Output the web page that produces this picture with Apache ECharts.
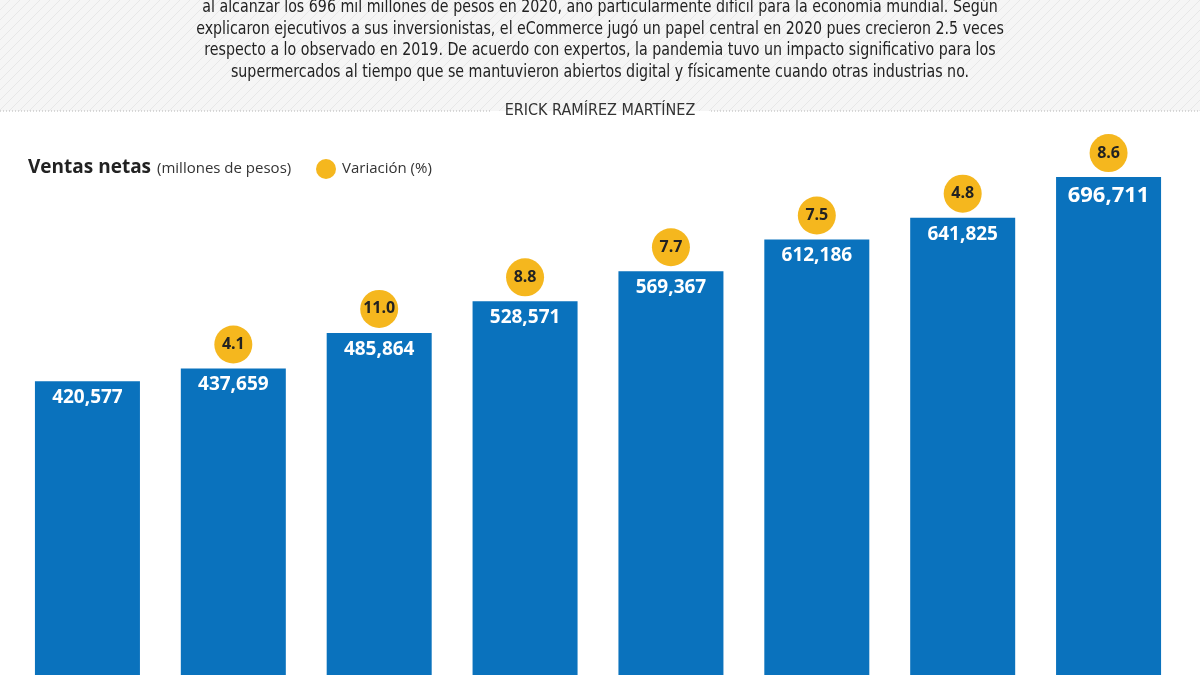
<!DOCTYPE html>
<html><head><meta charset="utf-8">
<script src="https://cdn.jsdelivr.net/npm/echarts@6/dist/echarts.min.js"></script>
<style>html,body{margin:0;padding:0;background:#fff;overflow:hidden}#c{width:1200px;height:692px}</style>
</head><body><div id="c"></div>
<script>
const categories = ['2013','2014','2015','2016','2017','2018','2019','2020'];
const ventas = [420577, 437659, 485864, 528571, 569367, 612186, 641825, 696711];
const variacion = [null, 4.1, 11.0, 8.8, 7.7, 7.5, 4.8, 8.6];
const introLines = [
  'al alcanzar los 696 mil millones de pesos en 2020, año particularmente difícil para la economía mundial. Según',
  'explicaron ejecutivos a sus inversionistas, el eCommerce jugó un papel central en 2020 pues crecieron 2.5 veces',
  'respecto a lo observado en 2019. De acuerdo con expertos, la pandemia tuvo un impacto significativo para los',
  'supermercados al tiempo que se mantuvieron abiertos digital y físicamente cuando otras industrias no.'
];
const byline = 'ERICK RAMÍREZ MARTÍNEZ';

const BLUE = '#0a72bd', YELLOW = '#f5b71e';
const condensed = '"DejaVu Sans Condensed","Liberation Sans Narrow",sans-serif';
const sans = '"Open Sans","Noto Sans",sans-serif';

// hatch pattern
const pc = document.createElement('canvas');
pc.width = 10; pc.height = 10;
const pctx = pc.getContext('2d');
pctx.fillStyle = '#f5f5f5'; pctx.fillRect(0,0,10,10);
pctx.strokeStyle = '#e7e7e7'; pctx.lineWidth = 1;
pctx.beginPath(); pctx.moveTo(0,10); pctx.lineTo(10,0); pctx.moveTo(-5,5); pctx.lineTo(5,-5); pctx.moveTo(5,15); pctx.lineTo(15,5); pctx.stroke();

const graphics = [
  {type:'rect', shape:{x:0,y:0,width:1200,height:111}, style:{fill:{image:pc, repeat:'repeat'}}, z:-10},
  {type:'line', shape:{x1:0,y1:111,x2:490,y2:111}, style:{stroke:'#b5b5b5', lineWidth:1, lineDash:[1,2]}},
  {type:'line', shape:{x1:711,y1:111,x2:1200,y2:111}, style:{stroke:'#b5b5b5', lineWidth:1, lineDash:[1,2]}},
  {type:'text', x:600, y:111, style:{text:byline, fill:'#333', font:'16px '+condensed, textAlign:'center', textVerticalAlign:'middle'}},
  {type:'text', x:28, y:168, style:{text:'Ventas netas', fill:'#222', font:'bold 19px '+sans, textVerticalAlign:'middle'}},
  {type:'text', x:157, y:169, style:{text:'(millones de pesos)', fill:'#333', font:'15px '+sans, textVerticalAlign:'middle'}},
  {type:'circle', shape:{cx:326, cy:169, r:10}, style:{fill:YELLOW}},
  {type:'text', x:342, y:169, style:{text:'Variación (%)', fill:'#333', font:'15px '+sans, textVerticalAlign:'middle'}}
];
const lineY = [8, 30, 51, 73];
introLines.forEach((t,i)=>{
  graphics.push({type:'text', x:600, y:lineY[i], scaleX:0.93, style:{text:t, fill:'#222', font:'17px '+condensed, textAlign:'center', textVerticalAlign:'middle'}});
});

const chart = echarts.init(document.getElementById('c'));
chart.setOption({
  animation:false,
  backgroundColor:'#fff',
  grid:{left:14.5, right:18.5, top:0, bottom:0, containLabel:false},
  xAxis:{type:'category', data:categories, show:false},
  yAxis:{type:'value', min:0, max:936300, show:false},
  graphic: graphics,
  series:[
    {type:'bar', data: ventas.map((v,i)=>({value:v, label: i===ventas.length-1 ? {fontSize:22, distance:8} : {}})), barWidth:105, itemStyle:{color:BLUE},
     label:{show:true, position:'insideTop', distance:7, color:'#fff', fontWeight:'bold', fontSize:19, fontFamily:sans,
       formatter:p=>p.value.toLocaleString('en-US')}},
    {type:'scatter', data: ventas.map((v,i)=> variacion[i]==null ? null : {value:v}),
     symbol:'circle', symbolSize:38, symbolOffset:[0,-24], itemStyle:{color:YELLOW, opacity:1}, z:5,
     emphasis:{disabled:true},
     label:{show:true, position:'inside', color:'#222', fontWeight:'bold', fontSize:16, fontFamily:sans,
       formatter:p=>variacion[p.dataIndex].toFixed(1)}}
  ]
});
</script></body></html>
